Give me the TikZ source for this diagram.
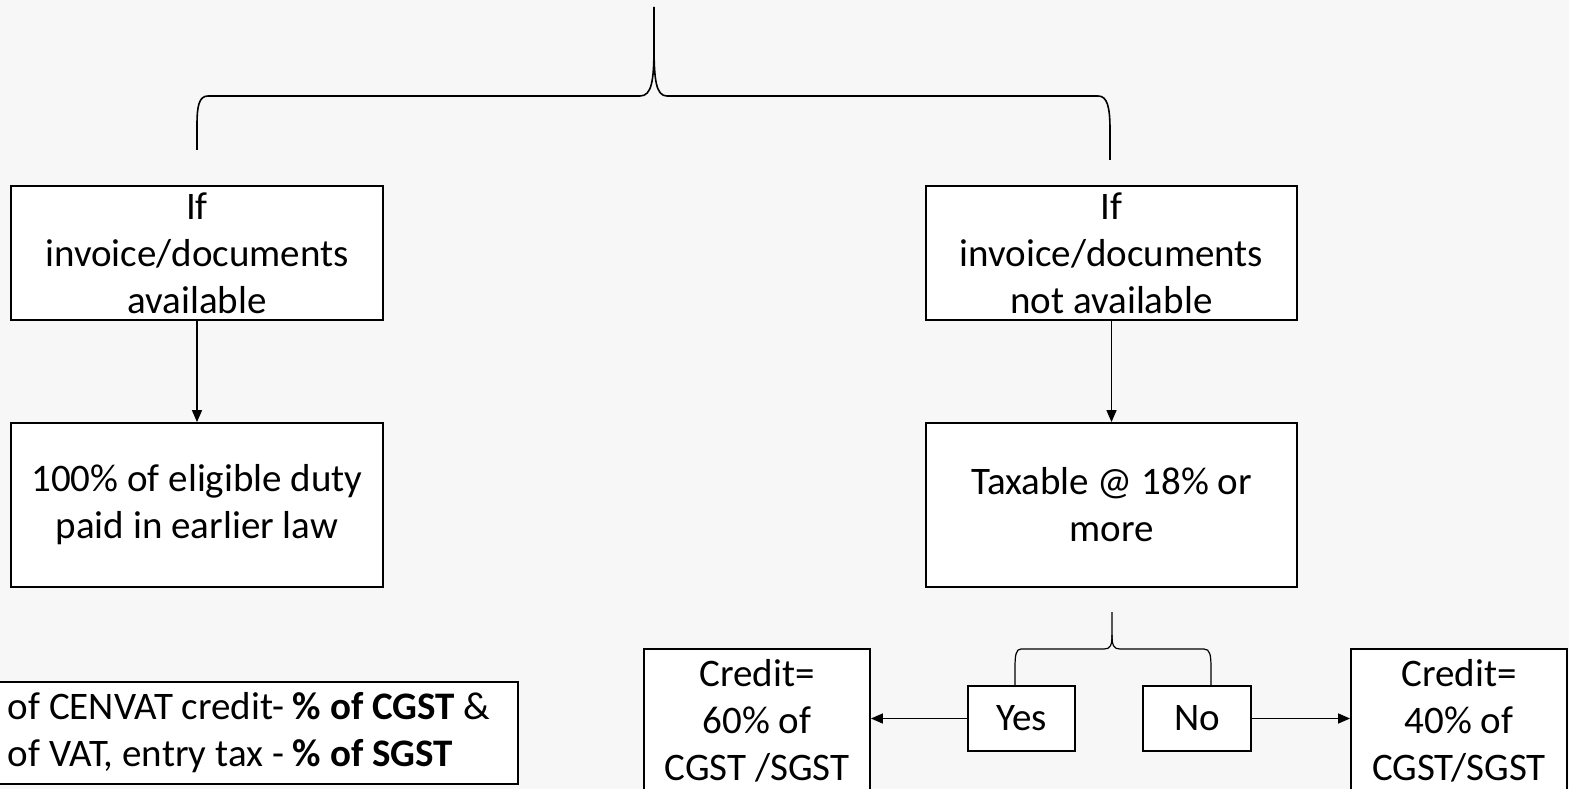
\documentclass[tikz,border=0pt]{standalone}
\usepackage{fontspec}
\setmainfont{Carlito}
\usetikzlibrary{arrows.meta}
\definecolor{slidebg}{RGB}{247,247,247}
\tikzset{
  box/.style={draw, fill=white, line width=1.8pt, inner sep=0pt, align=center,
    font=\fontsize{39}{47}\selectfont},
  link/.style={line width=1.4pt, -{Triangle[length=12pt,width=10pt]}},
  brace/.style={line width=1.6pt, line join=round},
}
\begin{document}
\begin{tikzpicture}[x=1pt, y=-1pt]
\useasboundingbox[fill=slidebg] (0,0) rectangle (1569,789);
% left branch
\node[box, minimum width=372pt, minimum height=134pt] (ifyes) at (197,253) {If\\invoice/documents\\available};
\node[box, minimum width=372pt, minimum height=164pt] (full) at (197,505) {100\% of eligible duty\\paid in earlier law};
% right branch
\node[box, minimum width=371pt, minimum height=134pt] (ifno) at (1111.5,253) {If\\invoice/documents\\not available};
\node[box, minimum width=371pt, minimum height=164pt] (taxable) at (1111.5,505) {Taxable @ 18\% or\\more};
\node[box, minimum width=107pt, minimum height=65pt] (yes) at (1021.5,718.5) {Yes};
\node[box, minimum width=108pt, minimum height=65pt] (no) at (1197,718.5) {No};
\node[box, minimum width=226pt, minimum height=143pt] (credit60) at (757,720.5) {Credit=\\60\% of\\CGST /SGST};
\node[box, minimum width=216pt, minimum height=143pt] (credit40) at (1459,720.5) {Credit=\\40\% of\\CGST/SGST};
% note box, cut by the left edge
\draw[fill=white, line width=1.8pt] (-10,682) rectangle (518,784);
\node[box, draw=none, fill=none, align=left, anchor=west] (cenvat) at (7,733)
  {of CENVAT credit- \textbf{\% of CGST} \&\\of VAT, entry tax - \textbf{\% of SGST}};
% braces
\coordinate (top) at (654,7);
\coordinate (fork) at (1112,612);
\draw[brace] (top) -- (654,45) .. controls (654,80) and (652,96) .. (640,96) -- (208,96)
  .. controls (199,96) and (197,106) .. (197,125) -- (197,150);
\draw[brace] (654,45) .. controls (654,80) and (656,96) .. (667,96) -- (1098,96)
  .. controls (1107,96) and (1110,106) .. (1110,130) -- (1110,160);
\draw[brace, line width=1.2pt] (fork) -- (1112,635) .. controls (1112,646) and (1110,649) .. (1104,649) -- (1021,649)
  .. controls (1016,649) and (1015,655) .. (1015,668) -- (1015,686);
\draw[brace, line width=1.2pt] (1112,635) .. controls (1112,646) and (1114,649) .. (1120,649) -- (1204,649)
  .. controls (1210,649) and (1211,655) .. (1211,668) -- (1211,686);
% arrows
\draw[link] (ifyes) -- (full);
\draw[link] (ifno) -- (taxable);
\draw[link] (yes.west) -- (yes.west -| credit60.east);
\draw[link] (no.east) -- (no.east -| credit40.west);
\end{tikzpicture}
\end{document}
